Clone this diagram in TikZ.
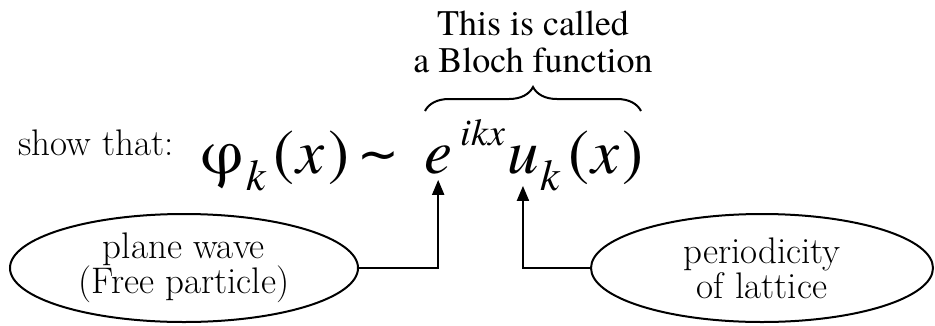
\documentclass[tikz,border=0pt]{standalone}
\usepackage{fontspec}
\newfontfamily\timesfont{texgyretermes}[Extension=.otf, UprightFont=*-regular, ItalicFont=*-italic, BoldFont=*-bold, BoldItalicFont=*-bolditalic]
\newfontfamily\symfont{DejaVu Sans}
\usetikzlibrary{arrows.meta, positioning, shapes.geometric, decorations.pathreplacing}

\newcommand{\lowidx}[1]{\raisebox{-17pt}{\fontsize{44}{44}\selectfont\itshape #1}}

\begin{document}
\begin{tikzpicture}[x=1pt, y=-1pt,
  bubble/.style={ellipse, draw=black, line width=2pt, minimum width=348pt, minimum height=108pt,
                 inner sep=0pt, align=center, font=\fontsize{37}{35}\selectfont},
  formula/.style={inner sep=0pt, anchor=base west, font=\timesfont\fontsize{63}{63}\selectfont},
  upidx/.style={inner sep=0pt, anchor=base west, font=\timesfont\itshape\fontsize{38}{38}\selectfont},
  note/.style={inner sep=0pt, align=center, font=\timesfont\fontsize{36}{37}\selectfont},
  lead/.style={inner sep=0pt, anchor=base west, font=\fontsize{37}{36}\selectfont},
  arrow/.style={-{Triangle[length=15pt, width=12pt]}, line width=2pt}
]
\useasboundingbox (0,0) rectangle (935,325);

% Equation
\node[lead] (show) at (18,155) {show that:};
\node[formula] (phi) at (200,173) {φ\kern3pt\lowidx{k}\kern8pt(\kern2pt\textit{x}\kern3pt)\kern8pt\raisebox{2pt}{\symfont\fontsize{50}{50}\selectfont ∼}};
\node[formula] (ex) at (424,173) {\textit{e}};
\node[upidx] (ikx) at ([xshift=8pt, yshift=28pt]ex.base east) {ikx};
\node[formula] (u) at (507,173) {\textit{u}};
\node[formula] (uarg) at ([xshift=1pt]u.base east) {\lowidx{k}\kern9pt(\kern2pt\textit{x}\kern3pt)};

% Bloch function brace
\coordinate (bracel) at (425,111);
\coordinate (bracer) at (641,111);
\draw[line width=2pt, decorate, decoration={brace, amplitude=24pt}] (bracel) -- (bracer);
\node[note, anchor=north] (bloch) at (533,10.5) {This is called \\ a Bloch function};

% Labels below
\node[bubble] (wave) at (184,268) {plane wave \\ (Free particle)};
\node[bubble, minimum width=342pt] (lattice) at (762,268) {periodicity \\ of lattice};

\draw[arrow, shorten >=6pt] (wave.east) -| (ex.south);
\draw[arrow, shorten >=12pt] (lattice.west) -| (u.south);

\end{tikzpicture}
\end{document}
